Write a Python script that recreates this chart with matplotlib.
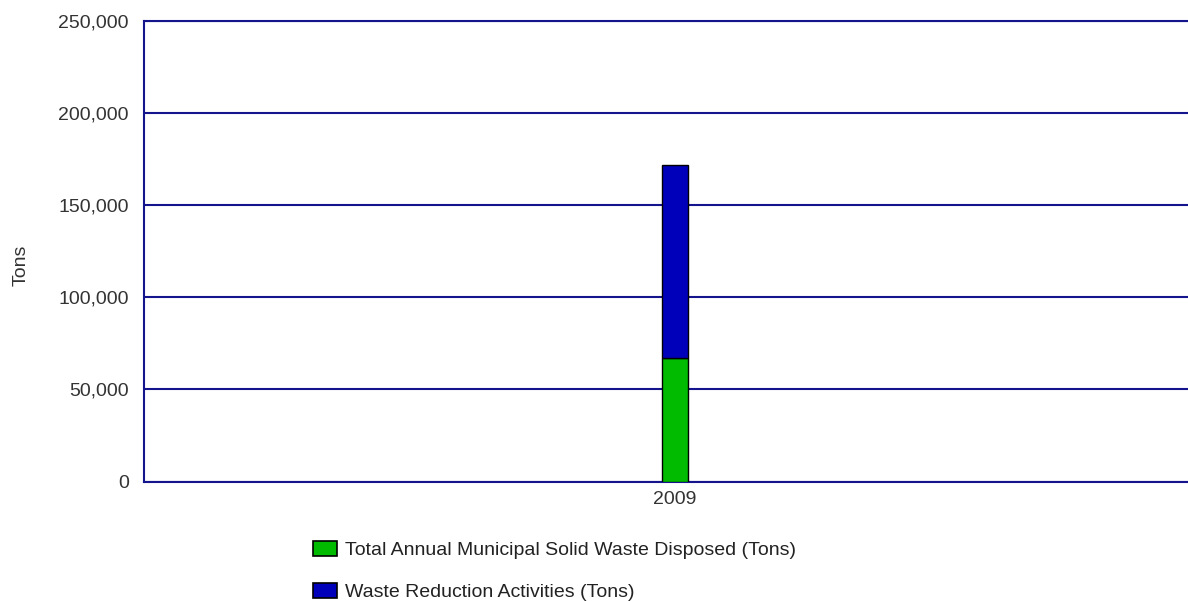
import matplotlib
matplotlib.use("Agg")
import matplotlib.pyplot as plt
from matplotlib.ticker import FuncFormatter
from matplotlib.patches import Patch

categories = ["2009"]
msw_disposed = [67100]
waste_reduction = [104500]
series_labels = ["Total Annual Municipal Solid Waste Disposed (Tons)",
                 "Waste Reduction Activities (Tons)"]
yticks = [0, 50000, 100000, 150000, 200000, 250000]

plt.rcParams['font.family'] = ['Liberation Sans', 'DejaVu Sans']

fig = plt.figure(figsize=(11.88, 6.01), dpi=100)
ax = fig.add_axes([144/1188, (601-481.5)/601, 1062/1188, 461/601])

green = "#00BB00"
blue = "#0000BB"
grid = "#14148c"
txt = "#333333"

x = list(range(len(categories)))
ax.bar(x, msw_disposed, width=0.025, color=green, edgecolor="black", linewidth=1, zorder=3)
ax.bar(x, waste_reduction, bottom=msw_disposed, width=0.025, color=blue, edgecolor="black", linewidth=1, zorder=3)

ax.set_xlim(-0.5, 0.5)
ax.set_ylim(0, 250000)
ax.set_yticks(yticks)
ax.yaxis.set_major_formatter(FuncFormatter(lambda v, p: f"{int(v):,}"))
ax.set_xticks(x)
ax.set_xticklabels(categories)
ax.tick_params(axis="both", length=0, labelsize=14, colors=txt)
ax.tick_params(axis="y", pad=11)
ax.tick_params(axis="x", pad=7)

ax.grid(axis="y", color=grid, linewidth=1.5, zorder=1)
ax.spines["right"].set_visible(False)
for side in ["left", "bottom", "top"]:
    ax.spines[side].set_color(grid)
    ax.spines[side].set_linewidth(1.5)

ax.set_ylabel("Tons", fontsize=14, color=txt)
ax.yaxis.set_label_coords((30 - 144) / 1062, (481.5 - 265) / 461)

handles = [Patch(facecolor=green, edgecolor="black", linewidth=1.2),
           Patch(facecolor=blue, edgecolor="black", linewidth=1.2)]
fig.legend(handles, series_labels, loc="upper left", bbox_to_anchor=(313/1188, 1 - 541/601),
           frameon=False, fontsize=14, handlelength=1.24, handleheight=0.82,
           handletextpad=0.4, labelspacing=1.2, borderaxespad=0, borderpad=0,
           labelcolor="#222222")

fig.savefig("out.png", dpi=100, facecolor="white")
